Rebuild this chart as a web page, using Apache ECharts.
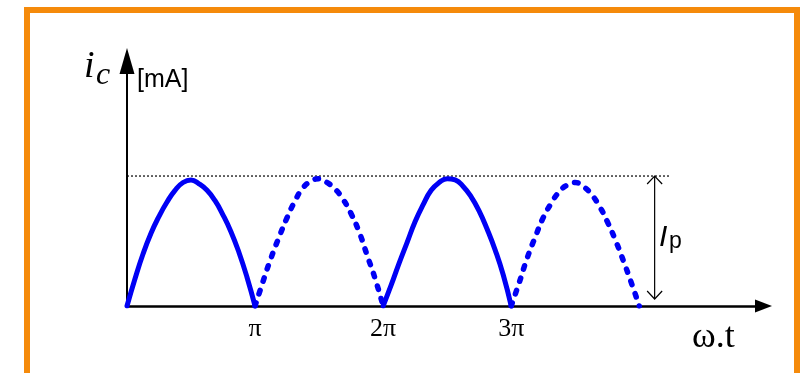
<!DOCTYPE html>
<html>
<head>
<meta charset="utf-8">
<script src="https://cdn.jsdelivr.net/npm/echarts@6/dist/echarts.min.js"></script>
<style>
  html, body { margin: 0; padding: 0; background: #fff; }
  #chart { width: 800px; height: 373px; }
</style>
</head>
<body>
<div id="chart"></div>
<script>
// Phase axis in multiples of π; current in units of the peak value Ip.
const tickLabels = { 1: 'π', 2: '2π', 3: '3π' };

// Half-wave arcs, sampled every π/16 (x in π units, y in Ip units)
const arc1X = [0, 0.0625, 0.125, 0.1875, 0.25, 0.3125, 0.375, 0.4375, 0.5,
               0.5625, 0.625, 0.6875, 0.75, 0.8125, 0.875, 0.9375, 1];
const arc1Y = [0, 0.21, 0.40, 0.56, 0.69, 0.80, 0.89, 0.95, 0.97,
               0.94, 0.89, 0.81, 0.70, 0.57, 0.41, 0.22, 0];

const arc2X = [1, 1.0625, 1.125, 1.1875, 1.25, 1.3125, 1.375, 1.4375, 1.5,
               1.5625, 1.625, 1.6875, 1.75, 1.8125, 1.875, 1.9375, 2];
const arc2Y = [0, 0.19, 0.37, 0.53, 0.68, 0.81, 0.91, 0.96, 0.98,
               0.95, 0.90, 0.82, 0.71, 0.57, 0.39, 0.21, 0];

const arc3X = [2, 2.0625, 2.125, 2.1875, 2.25, 2.3125, 2.375, 2.4375, 2.5,
               2.5625, 2.625, 2.6875, 2.75, 2.8125, 2.875, 2.9375, 3];
const arc3Y = [0, 0.16, 0.33, 0.49, 0.65, 0.78, 0.89, 0.95, 0.98,
               0.97, 0.92, 0.84, 0.73, 0.59, 0.43, 0.24, 0];

const arc4X = [3, 3.0625, 3.125, 3.1875, 3.25, 3.3125, 3.375, 3.4375, 3.5,
               3.5625, 3.625, 3.6875, 3.75, 3.8125, 3.875, 3.9375, 4];
const arc4Y = [0, 0.18, 0.37, 0.53, 0.68, 0.79, 0.88, 0.93, 0.95,
               0.92, 0.86, 0.77, 0.65, 0.51, 0.35, 0.18, 0];

// Peak level Ip and the dimension arrow that marks it
const peakValue = 1;
const peakLineEnd = 4.24;
const peakArrowX = 4.12;

const pairs = (xs, ys) => xs.map((x, i) => [x, ys[i]]);

const BLUE = '#0000F5';
const solid = { color: BLUE, width: 5, cap: 'round', join: 'round' };
const dashed = { color: BLUE, width: 5.5, type: [3.5, 9.5], cap: 'round', join: 'round' };

const chart = echarts.init(document.getElementById('chart'), null, { renderer: 'canvas' });

const option = {
  backgroundColor: '#ffffff',
  animation: false,
  grid: { left: 127, top: 61, right: 36.5, bottom: 67 },
  xAxis: {
    type: 'value',
    min: 0,
    max: 4.97,
    interval: 1,
    splitLine: { show: false },
    axisTick: { show: false },
    axisLine: {
      onZero: false,
      lineStyle: { color: '#000', width: 2.5 },
      symbol: ['none', 'triangle'],
      symbolSize: [13, 17]
    },
    axisLabel: {
      margin: 10,
      fontFamily: 'Liberation Serif',
      fontSize: 26,
      color: '#000',
      formatter: v => tickLabels[v] || ''
    }
  },
  yAxis: {
    type: 'value',
    min: 0,
    max: 1.885,
    splitLine: { show: false },
    axisTick: { show: false },
    axisLabel: { show: false },
    axisLine: {
      lineStyle: { color: '#000', width: 2 },
      symbol: ['none', 'triangle'],
      symbolSize: [15, 26]
    }
  },
  series: [
    {
      type: 'line', data: [[0, peakValue], [peakLineEnd, peakValue]],
      symbol: 'none', silent: true, z: 1,
      lineStyle: { color: '#000', width: 1.2, type: [2, 2] }
    },
    { type: 'line', data: pairs(arc1X, arc1Y), smooth: 0.5, symbol: 'none', lineStyle: solid, z: 3 },
    { type: 'line', data: pairs(arc2X, arc2Y), smooth: 0.5, symbol: 'none', lineStyle: dashed, z: 3 },
    { type: 'line', data: pairs(arc3X, arc3Y), smooth: 0.5, symbol: 'none', lineStyle: solid, z: 3 },
    { type: 'line', data: pairs(arc4X, arc4Y), smooth: 0.5, symbol: 'none', lineStyle: dashed, z: 3 },
    {
      // double-headed dimension arrow from 0 up to Ip
      type: 'custom',
      data: [[peakArrowX, 0, peakValue]],
      encode: { x: 0, y: [1, 2] },
      z: 2,
      renderItem: (params, api) => {
        const top = api.coord([api.value(0), api.value(2)]);
        const bot = api.coord([api.value(0), api.value(1)]);
        bot[1] -= 7;
        const hw = 7.5, hl = 8;
        const st = { stroke: '#000', lineWidth: 1.2, fill: null };
        return {
          type: 'group',
          children: [
            { type: 'line', shape: { x1: top[0], y1: top[1], x2: bot[0], y2: bot[1] }, style: st },
            { type: 'polyline', shape: { points: [[top[0] - hw, top[1] + hl], top, [top[0] + hw, top[1] + hl]] }, style: st },
            { type: 'polyline', shape: { points: [[bot[0] - hw, bot[1] - hl], bot, [bot[0] + hw, bot[1] - hl]] }, style: st }
          ]
        };
      }
    }
  ],
  graphic: [
    {
      type: 'rect', silent: true, z: 100,
      shape: { x: 27, y: 10, width: 770, height: 400 },
      style: { fill: null, stroke: '#F58A0B', lineWidth: 6 }
    },
    {
      type: 'text', left: 84, top: 48,
      style: { text: 'i', font: 'italic 38px "Liberation Serif"', fill: '#000' }
    },
    {
      type: 'text', left: 96, top: 60,
      style: { text: 'c', font: 'italic 32px "Liberation Serif"', fill: '#000' }
    },
    {
      type: 'text', left: 137, top: 68,
      style: { text: '[mA]', font: '25px "Liberation Sans"', fill: '#000' }
    },
    {
      type: 'text', left: 692, top: 320,
      style: { text: 'ω.t', font: '36px "Liberation Serif"', fill: '#000' }
    },
    {
      type: 'text', left: 659, top: 223,
      style: { text: 'I', font: 'italic 30px "Liberation Sans"', fill: '#000' }
    },
    {
      type: 'text', left: 669, top: 230,
      style: { text: 'p', font: '23px "Liberation Sans"', fill: '#000' }
    }
  ]
};

chart.setOption(option);
</script>
</body>
</html>
